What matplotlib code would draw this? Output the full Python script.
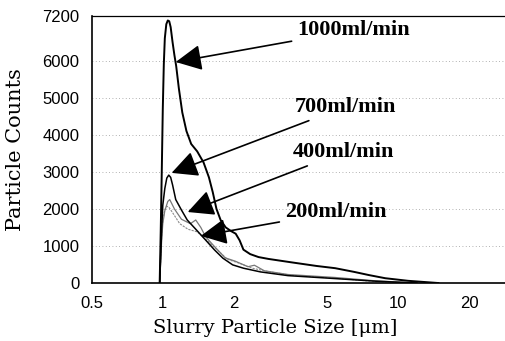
import matplotlib.pyplot as plt

# particle size [um] vs counts
x_1000 = [0.97, 0.98, 0.99, 1.0, 1.01, 1.02, 1.035, 1.05, 1.065, 1.08, 1.1, 1.12, 1.14, 1.17, 1.21, 1.26, 1.32, 1.4, 1.49, 1.57, 1.63, 1.69, 1.76, 1.85, 1.95, 2.04, 2.12, 2.2, 2.35, 2.55, 2.81, 3.5, 4.5, 5.4, 6.5, 7.5, 8.8, 11.0, 14.8]
y_1000 = [0, 1400, 3000, 4700, 5900, 6600, 6980, 7080, 7060, 6900, 6500, 6150, 5850, 5250, 4600, 4100, 3750, 3550, 3250, 2850, 2450, 2000, 1700, 1500, 1400, 1330, 1150, 900, 780, 700, 650, 560, 460, 400, 300, 215, 130, 60, 0]

x_700 = [0.97, 0.99, 1.0, 1.02, 1.04, 1.06, 1.08, 1.1, 1.135, 1.2, 1.27, 1.39, 1.52, 1.66, 1.8, 1.98, 2.2, 2.6, 3.4, 5.4, 8.0, 12.0]
y_700 = [0, 1500, 2100, 2550, 2830, 2910, 2850, 2650, 2250, 1970, 1700, 1430, 1160, 890, 670, 490, 400, 300, 200, 120, 50, 0]

x_400 = [0.97, 0.99, 1.0, 1.02, 1.05, 1.07, 1.09, 1.12, 1.2, 1.31, 1.38, 1.45, 1.52, 1.66, 1.84, 2.03, 2.3, 2.45, 2.7, 3.4, 5.4, 8.0, 12.0]
y_400 = [0, 1200, 1600, 1950, 2200, 2250, 2150, 2000, 1720, 1600, 1700, 1500, 1250, 980, 680, 590, 440, 480, 330, 230, 150, 60, 0]

x_200 = [0.97, 0.99, 1.0, 1.02, 1.04, 1.06, 1.1, 1.18, 1.28, 1.4, 1.54, 1.7, 1.88, 2.1, 2.4, 2.8, 3.5, 5.4, 8.0, 12.0]
y_200 = [0, 1300, 1700, 1980, 2070, 2050, 1900, 1600, 1450, 1380, 1150, 900, 640, 540, 400, 310, 210, 130, 40, 0]

labels = ['1000ml/min', '700ml/min', '400ml/min', '200ml/min']
arrow_tips = [(1.135, 5960), (1.09, 2970), (1.276, 1915), (1.45, 1270)]
text_pos = [(3.72, 6820), (3.62, 4750), (3.55, 3530), (3.3, 1915)]

x_ticks = [0.5, 1, 2, 5, 10, 20]
y_ticks = [0, 1000, 2000, 3000, 4000, 5000, 6000, 7200]

fig = plt.figure(figsize=(5.05, 3.41), dpi=100)
ax = fig.add_axes([0.182, 0.17, 0.818, 0.783])

ax.plot(x_200, y_200, color='#8a8a8a', lw=0.8, ls=(0, (2, 1)))
ax.plot(x_400, y_400, color='#777777', lw=0.9)
ax.plot(x_700, y_700, color='black', lw=1.1)
ax.plot(x_1000, y_1000, color='black', lw=1.4)

ax.set_xscale('log')
ax.set_xlim(0.5, 28.4)
ax.set_ylim(0, 7200)
ax.set_xticks(x_ticks)
ax.set_xticklabels([str(t) for t in x_ticks])
ax.minorticks_off()
ax.set_yticks(y_ticks)
ax.tick_params(axis='y', length=0, labelsize=12, pad=9)
ax.tick_params(axis='x', length=0, labelsize=12, pad=9)
for lab in ax.get_xticklabels() + ax.get_yticklabels():
    lab.set_family('Liberation Sans')

ax.grid(axis='y', color='#999999', lw=0.6, ls=(0, (1, 3)))
ax.spines['right'].set_visible(False)
ax.spines['top'].set_linestyle((0, (2, 1)))
ax.spines['top'].set_linewidth(0.9)
ax.spines['left'].set_linewidth(1.2)
ax.spines['bottom'].set_linewidth(1.2)

for lab, tip, pos in zip(labels, arrow_tips, text_pos):
    ax.annotate(lab, xy=tip, xytext=pos, ha='left', va='center',
                family='Liberation Serif', weight='bold', fontsize=16,
                arrowprops=dict(arrowstyle='-|>,head_length=1.0,head_width=0.5',
                                color='black', lw=1.2, shrinkA=2, shrinkB=0))

ax.set_xlabel('Slurry Particle Size [μm]', family='DejaVu Serif', fontsize=14)
ax.xaxis.set_label_coords(0.444, -0.135)
ax.set_ylabel('Particle Counts', family='DejaVu Serif', fontsize=15)
ax.yaxis.set_label_coords(-0.163, 0.5)

fig.savefig('out.png', dpi=100)
